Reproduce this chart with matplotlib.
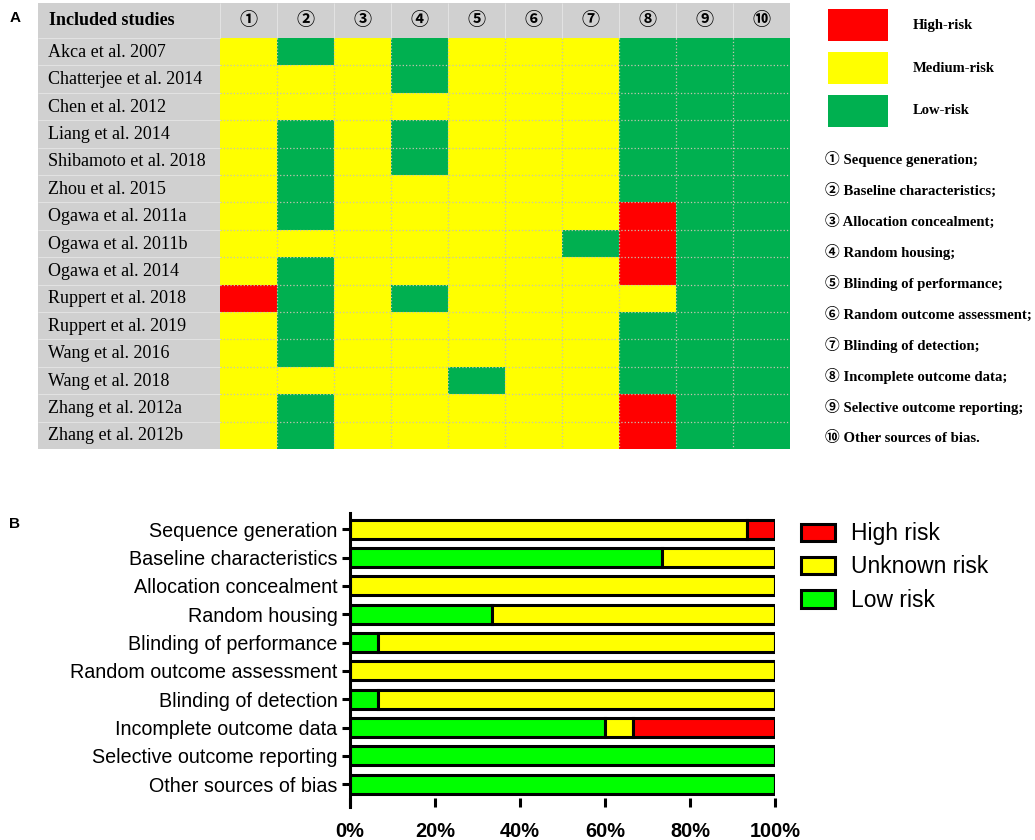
import matplotlib
matplotlib.use('Agg')
import matplotlib.pyplot as plt
import numpy as np
from matplotlib.colors import ListedColormap
from matplotlib.patches import Rectangle

# Panel A: risk of bias per study (0 = low, 1 = medium, 2 = high)
studies = ['Akca et al. 2007', 'Chatterjee et al. 2014', 'Chen et al. 2012',
           'Liang et al. 2014', 'Shibamoto et al. 2018', 'Zhou et al. 2015',
           'Ogawa et al. 2011a', 'Ogawa et al. 2011b', 'Ogawa et al. 2014',
           'Ruppert et al. 2018', 'Ruppert et al. 2019', 'Wang et al. 2016',
           'Wang et al. 2018', 'Zhang et al. 2012a', 'Zhang et al. 2012b']
domain_marks = ['①', '②', '③', '④', '⑤', '⑥', '⑦', '⑧', '⑨', '⑩']
risk_grid = [
    [1, 0, 1, 0, 1, 1, 1, 0, 0, 0],
    [1, 1, 1, 0, 1, 1, 1, 0, 0, 0],
    [1, 1, 1, 1, 1, 1, 1, 0, 0, 0],
    [1, 0, 1, 0, 1, 1, 1, 0, 0, 0],
    [1, 0, 1, 0, 1, 1, 1, 0, 0, 0],
    [1, 0, 1, 1, 1, 1, 1, 0, 0, 0],
    [1, 0, 1, 1, 1, 1, 1, 2, 0, 0],
    [1, 1, 1, 1, 1, 1, 0, 2, 0, 0],
    [1, 0, 1, 1, 1, 1, 1, 2, 0, 0],
    [2, 0, 1, 0, 1, 1, 1, 1, 0, 0],
    [1, 0, 1, 1, 1, 1, 1, 0, 0, 0],
    [1, 0, 1, 1, 1, 1, 1, 0, 0, 0],
    [1, 1, 1, 1, 0, 1, 1, 0, 0, 0],
    [1, 0, 1, 1, 1, 1, 1, 2, 0, 0],
    [1, 0, 1, 1, 1, 1, 1, 2, 0, 0],
]
legend_a_labels = ['High-risk', 'Medium-risk', 'Low-risk']
domain_notes = ['Sequence generation;', 'Baseline characteristics;',
                'Allocation concealment;', 'Random housing;',
                'Blinding of performance;', 'Random outcome assessment;',
                'Blinding of detection;', 'Incomplete outcome data;',
                'Selective outcome reporting;', 'Other sources of bias.']

# Panel B: percentage of studies per domain
domains = ['Sequence generation', 'Baseline characteristics', 'Allocation concealment',
           'Random housing', 'Blinding of performance', 'Random outcome assessment',
           'Blinding of detection', 'Incomplete outcome data',
           'Selective outcome reporting', 'Other sources of bias']
low_pct = [0, 73.3, 0, 33.3, 6.7, 0, 6.7, 60.0, 100, 100]
unknown_pct = [93.3, 26.7, 100, 66.7, 93.3, 100, 93.3, 6.7, 0, 0]
high_pct = [6.7, 0, 0, 0, 0, 0, 0, 33.3, 0, 0]
xticks_b = [0, 20, 40, 60, 80, 100]

W, H = 1035, 840
fig = plt.figure(figsize=(W / 100, H / 100), dpi=100)

serif = ['Liberation Serif', 'Noto Sans CJK SC', 'DejaVu Sans']
sans = ['Liberation Sans', 'DejaVu Sans']

# ---------- panel A ----------
green_a, yellow_a, red_a, grey_a = '#00b050', '#ffff00', '#ff0000', '#d0d0d0'
label_w = 182 / 57
header_h = 35 / 27.4
axA = fig.add_axes([38 / W, 1 - 449 / H, (790 - 38) / W, (449 - 3) / H])
axA.imshow(np.array(risk_grid), cmap=ListedColormap([green_a, yellow_a, red_a]),
           vmin=0, vmax=2, extent=(0, 10, 15, 0), aspect='auto', interpolation='nearest')
axA.add_patch(Rectangle((-label_w, -header_h), 10 + label_w, header_h, color=grey_a, lw=0))
axA.add_patch(Rectangle((-label_w, 0), label_w, 15, color=grey_a, lw=0))
axA.hlines(np.arange(1, 15), 0, 10, colors='#c4c4b0', linestyles=':', lw=0.9)
axA.vlines(np.arange(1, 10), 0, 15, colors='#c4c4b0', linestyles=':', lw=0.9)
axA.hlines(np.arange(0, 15), -label_w, 0, colors='#e2e2e2', lw=0.8)
axA.vlines(np.arange(0, 10), -header_h, 0, colors='#e2e2e2', lw=0.8)
axA.set_xlim(-label_w, 10)
axA.set_ylim(15, -header_h)
axA.axis('off')

axA.text(-label_w + 0.2, -header_h / 2, 'Included studies', ha='left', va='center',
         fontsize=13, fontweight='bold', family=serif)
for j, m in enumerate(domain_marks):
    axA.text(j + 0.5, -header_h / 2, m, ha='center', va='center', fontsize=13,
             fontweight='bold', family=serif)
for i, s in enumerate(studies):
    axA.text(-label_w + 0.18, i + 0.52, s, ha='left', va='center', fontsize=13, family=serif)

# legend for panel A, drawn in pixel coordinates
axL = fig.add_axes([0, 0, 1, 1])
axL.set_xlim(0, W)
axL.set_ylim(H, 0)
axL.axis('off')
for k, (lab, col) in enumerate(zip(legend_a_labels, [red_a, yellow_a, green_a])):
    y0 = 9 + k * 43
    axL.add_patch(Rectangle((828, y0), 60, 32, color=col, lw=0))
    axL.text(913, y0 + 16, lab, ha='left', va='center', fontsize=10.5,
             fontweight='bold', family=serif)
for k, (m, note) in enumerate(zip(domain_marks, domain_notes)):
    axL.text(825, 159 + k * 31.0, m + ' ' + note, ha='left', va='center', fontsize=10.6,
             fontweight='bold', family=serif)
axL.text(15, 18, 'A', ha='center', va='center', fontsize=11, fontweight='bold', family=sans)
axL.text(14, 524, 'B', ha='center', va='center', fontsize=11, fontweight='bold', family=sans)

# ---------- panel B ----------
axB = fig.add_axes([350 / W, 1 - 807 / H, 425 / W, 294 / H])
y = np.arange(len(domains))
low = np.array(low_pct)
unk = np.array(unknown_pct)
high = np.array(high_pct)
bar_kw = dict(height=0.67, edgecolor='black', linewidth=2.2)
b_low = axB.barh(y, low, left=0, color='#00ff00', label='Low risk', **bar_kw)
b_unk = axB.barh(y, unk, left=low, color='#ffff00', label='Unknown risk', **bar_kw)
b_high = axB.barh(y, high, left=low + unk, color='#ff0000', label='High risk', **bar_kw)
axB.set_xlim(0, 100)
axB.set_ylim(9.8, -0.57)
axB.set_yticks(y)
axB.set_yticklabels(domains, fontsize=14.2, family=sans)
axB.set_xticks(xticks_b)
axB.set_xticklabels([f'{v}%' for v in xticks_b], fontsize=14.4, fontweight='bold', family=sans)
for side in ['top', 'right', 'bottom']:
    axB.spines[side].set_visible(False)
axB.spines['left'].set_linewidth(2.2)
axB.tick_params(axis='y', direction='out', length=6, width=2.2, pad=3)
axB.tick_params(axis='x', direction='in', length=6.5, width=2.2, pad=11)
axB.legend(handles=[b_high, b_unk, b_low], loc='upper left', bbox_to_anchor=(1.04, 1.0),
           frameon=False, prop={'family': sans, 'size': 16.5}, handlelength=1.48,
           handleheight=0.79, handletextpad=0.7, labelspacing=0.45, borderaxespad=0)

fig.savefig('out.png', dpi=100)
